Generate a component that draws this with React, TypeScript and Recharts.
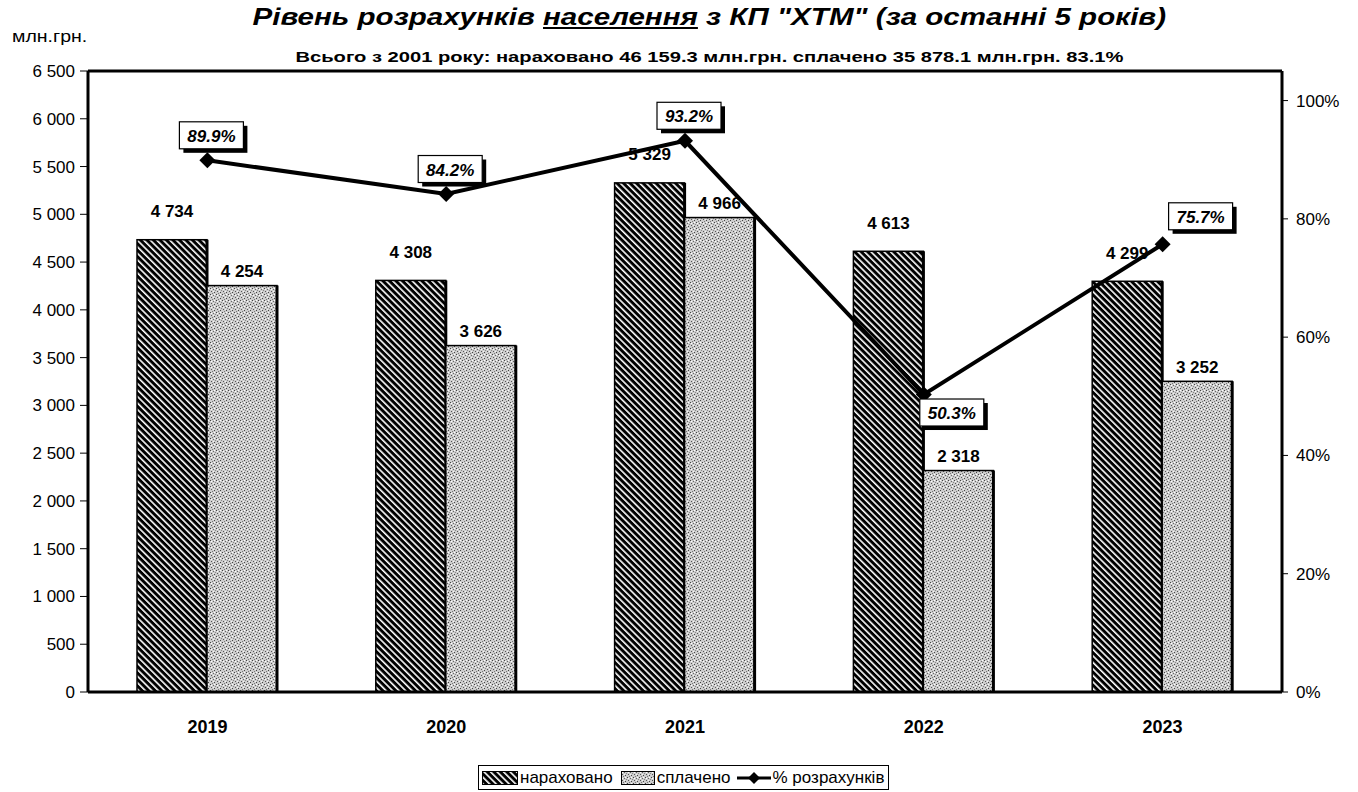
import React from 'react';
import {
  ComposedChart,
  Bar,
  Line,
  XAxis,
  YAxis,
  LabelList,
  ReferenceLine,
} from 'recharts';

const years = ['2019', '2020', '2021', '2022', '2023'];
const accrued = [4734, 4308, 5329, 4613, 4299];
const paid = [4254, 3626, 4966, 2318, 3252];
const paidPct = [89.9, 84.2, 93.2, 50.3, 75.7];
const leftTicks = [0, 500, 1000, 1500, 2000, 2500, 3000, 3500, 4000, 4500, 5000, 5500, 6000, 6500];
const rightTicks = [0, 20, 40, 60, 80, 100];

const FONT = '"Liberation Sans", Arial, sans-serif';

const data = years.map((y, i) => ({
  year: y,
  accrued: accrued[i],
  paid: paid[i],
  pct: paidPct[i],
}));

// "6 500" style thousands
const fmt = (v: number) => String(v).replace(/\B(?=(\d{3})+(?!\d))/g, ' ');

const PatternDefs = ({ prefix }: { prefix: string }) => (
  <defs>
    <pattern
      id={`${prefix}-hatch`}
      patternUnits="userSpaceOnUse"
      width="4.6"
      height="4.6"
      patternTransform="rotate(-45)"
    >
      <rect width="4.6" height="4.6" fill="#000" />
      <rect x="0" y="0" width="1.6" height="4.6" fill="#fff" />
    </pattern>
    <pattern id={`${prefix}-dots`} patternUnits="userSpaceOnUse" width="6" height="6">
      <rect width="6" height="6" fill="#cdcdcd" />
      <rect x="0" y="0" width="1" height="1" fill="#444" />
      <rect x="3" y="1" width="1" height="1" fill="#666" />
      <rect x="1" y="3" width="1" height="1" fill="#555" />
      <rect x="4" y="4" width="1" height="1" fill="#444" />
      <rect x="5" y="2" width="1" height="1" fill="#888" />
      <rect x="2" y="5" width="1" height="1" fill="#777" />
      <rect x="4" y="0" width="1" height="1" fill="#fff" />
      <rect x="1" y="1" width="1" height="1" fill="#fff" />
      <rect x="3" y="3" width="1" height="1" fill="#f4f4f4" />
    </pattern>
  </defs>
);

const barLabel = (lift: number) => (props: any) => {
  const { x, y, width, value } = props;
  return (
    <text
      x={x + width / 2}
      y={y - lift}
      textAnchor="middle"
      dominantBaseline="central"
      fontFamily={FONT}
      fontWeight="bold"
      fontSize={17}
      fill="#000"
    >
      {fmt(value)}
    </text>
  );
};

// bar with a heavier right edge, like the scanned original
const EdgedBar = (props: any) => {
  const { x, y, width, height, fill } = props;
  if (!height) return null;
  return (
    <g>
      <rect x={x} y={y} width={width} height={height} fill={fill} stroke="#000" strokeWidth={1.5} />
      <line x1={x + width} y1={y} x2={x + width} y2={y + height} stroke="#000" strokeWidth={3} />
    </g>
  );
};

const minPct = Math.min(...paidPct);

const PctLabel = (props: any) => {
  const { x, y, value, index } = props;
  let cx = x + 4;
  let cy = y - 25;
  if (value === minPct) {
    cx = x + 28;
    cy = y + 18;
  } else if (index === paidPct.length - 1) {
    cx = x + 38;
    cy = y - 28;
  }
  const w = 64;
  const h = 27;
  return (
    <g>
      <rect x={cx - w / 2 + 4} y={cy - h / 2 + 4} width={w} height={h} fill="#000" />
      <rect x={cx - w / 2} y={cy - h / 2} width={w} height={h} fill="#fff" stroke="#000" strokeWidth={1.2} />
      <text
        x={cx}
        y={cy + 1}
        textAnchor="middle"
        dominantBaseline="central"
        fontFamily={FONT}
        fontWeight="bold"
        fontStyle="italic"
        fontSize={17}
        fill="#000"
      >
        {value.toFixed(1)}%
      </text>
    </g>
  );
};

const Diamond = (props: any) => {
  const { cx, cy } = props;
  const r = 8;
  return (
    <polygon
      points={`${cx},${cy - r} ${cx + r},${cy} ${cx},${cy + r} ${cx - r},${cy}`}
      fill="#000"
    />
  );
};

const LegendBox = () => (
  <div
    style={{
      position: 'absolute',
      left: 478,
      top: 765,
      height: 25,
      border: '1px solid #000',
      display: 'flex',
      alignItems: 'center',
      padding: '0 4px 0 3px',
      fontFamily: FONT,
      fontSize: 17,
      whiteSpace: 'nowrap',
      boxSizing: 'border-box',
    }}
  >
    <svg width={36} height={14} style={{ marginRight: 2 }}>
      <PatternDefs prefix="lg" />
      <rect x={0.5} y={0.5} width={35} height={13} fill="url(#lg-hatch)" stroke="#000" />
    </svg>
    <span style={{ marginRight: 8 }}>нараховано</span>
    <svg width={34} height={14} style={{ marginRight: 2 }}>
      <rect x={0.5} y={0.5} width={33} height={13} fill="url(#lg-dots)" stroke="#000" />
    </svg>
    <span style={{ marginRight: 6 }}>сплачено</span>
    <svg width={34} height={16} style={{ marginRight: 2 }}>
      <line x1={0} y1={8} x2={34} y2={8} stroke="#000" strokeWidth={3} />
      <polygon points="17,2 23,8 17,14 11,8" fill="#000" />
    </svg>
    <span>% розрахунків</span>
  </div>
);

const Stretched = ({ children, scale, origin = 'center' }: any) => (
  <span style={{ display: 'inline-block', transform: `scaleX(${scale})`, transformOrigin: origin }}>
    {children}
  </span>
);

export default function App() {
  return (
    <div
      style={{
        position: 'absolute',
        left: 0,
        top: 0,
        width: 1358,
        height: 792,
        background: '#fff',
        fontFamily: FONT,
        color: '#000',
      }}
    >
      <div
        style={{
          position: 'absolute',
          left: 0,
          width: 1418,
          top: 3,
          textAlign: 'center',
          fontSize: 24,
          fontWeight: 'bold',
          fontStyle: 'italic',
          whiteSpace: 'nowrap',
        }}
      >
        <Stretched scale={1.23}>
          Рівень розрахунків <u>населення</u> з КП "ХТМ" (за останні 5 років)
        </Stretched>
      </div>
      <div
        style={{
          position: 'absolute',
          left: 0,
          width: 1418,
          top: 48,
          textAlign: 'center',
          fontSize: 15.5,
          fontWeight: 'bold',
          whiteSpace: 'nowrap',
        }}
      >
        <Stretched scale={1.3}>
          Всього з 2001 року: нараховано 46 159.3 млн.грн. сплачено 35 878.1 млн.грн. 83.1%
        </Stretched>
      </div>
      <div style={{ position: 'absolute', left: 12, top: 28, fontSize: 16 }}>
        <Stretched scale={1.22} origin="left">
          млн.грн.
        </Stretched>
      </div>

      <ComposedChart
        width={1358}
        height={792}
        data={data}
        margin={{ top: 71, right: 0, bottom: 40, left: 0 }}
        barGap={0}
        style={{ position: 'absolute', left: 0, top: 0 }}
      >
        <PatternDefs prefix="ch" />
        <XAxis
          dataKey="year"
          axisLine={{ stroke: '#000', strokeWidth: 3 }}
          tickLine={false}
          height={60}
          tick={{ fill: '#000', fontSize: 18, fontWeight: 'bold', fontFamily: FONT }}
          tickMargin={22}
        />
        <YAxis
          yAxisId="left"
          domain={[0, 6500]}
          ticks={leftTicks}
          tickFormatter={fmt}
          width={88}
          axisLine={{ stroke: '#000', strokeWidth: 3 }}
          tickLine={{ stroke: '#000' }}
          tickSize={8}
          tickMargin={5}
          interval={0}
          tick={{ fill: '#000', fontSize: 17, fontFamily: FONT }}
        />
        <YAxis
          yAxisId="right"
          orientation="right"
          domain={[0, 105]}
          ticks={rightTicks}
          tickFormatter={(v: number) => `${v}%`}
          width={76}
          axisLine={{ stroke: '#000', strokeWidth: 3 }}
          tickLine={{ stroke: '#000' }}
          tickSize={6}
          tickMargin={8}
          interval={0}
          tick={{ fill: '#000', fontSize: 17, fontFamily: FONT }}
        />
        <ReferenceLine yAxisId="left" y={6500} stroke="#000" strokeWidth={3} />
        <Bar
          yAxisId="left"
          dataKey="accrued"
          barSize={70}
          fill="url(#ch-hatch)"
          shape={<EdgedBar />}
          isAnimationActive={false}
        >
          <LabelList dataKey="accrued" content={barLabel(28)} />
        </Bar>
        <Bar
          yAxisId="left"
          dataKey="paid"
          barSize={70}
          fill="url(#ch-dots)"
          shape={<EdgedBar />}
          isAnimationActive={false}
        >
          <LabelList dataKey="paid" content={barLabel(14)} />
        </Bar>
        <Line
          yAxisId="right"
          dataKey="pct"
          stroke="#000"
          strokeWidth={4}
          dot={<Diamond />}
          activeDot={false}
          isAnimationActive={false}
        >
          <LabelList dataKey="pct" content={<PctLabel />} />
        </Line>
      </ComposedChart>
      <LegendBox />
    </div>
  );
}
